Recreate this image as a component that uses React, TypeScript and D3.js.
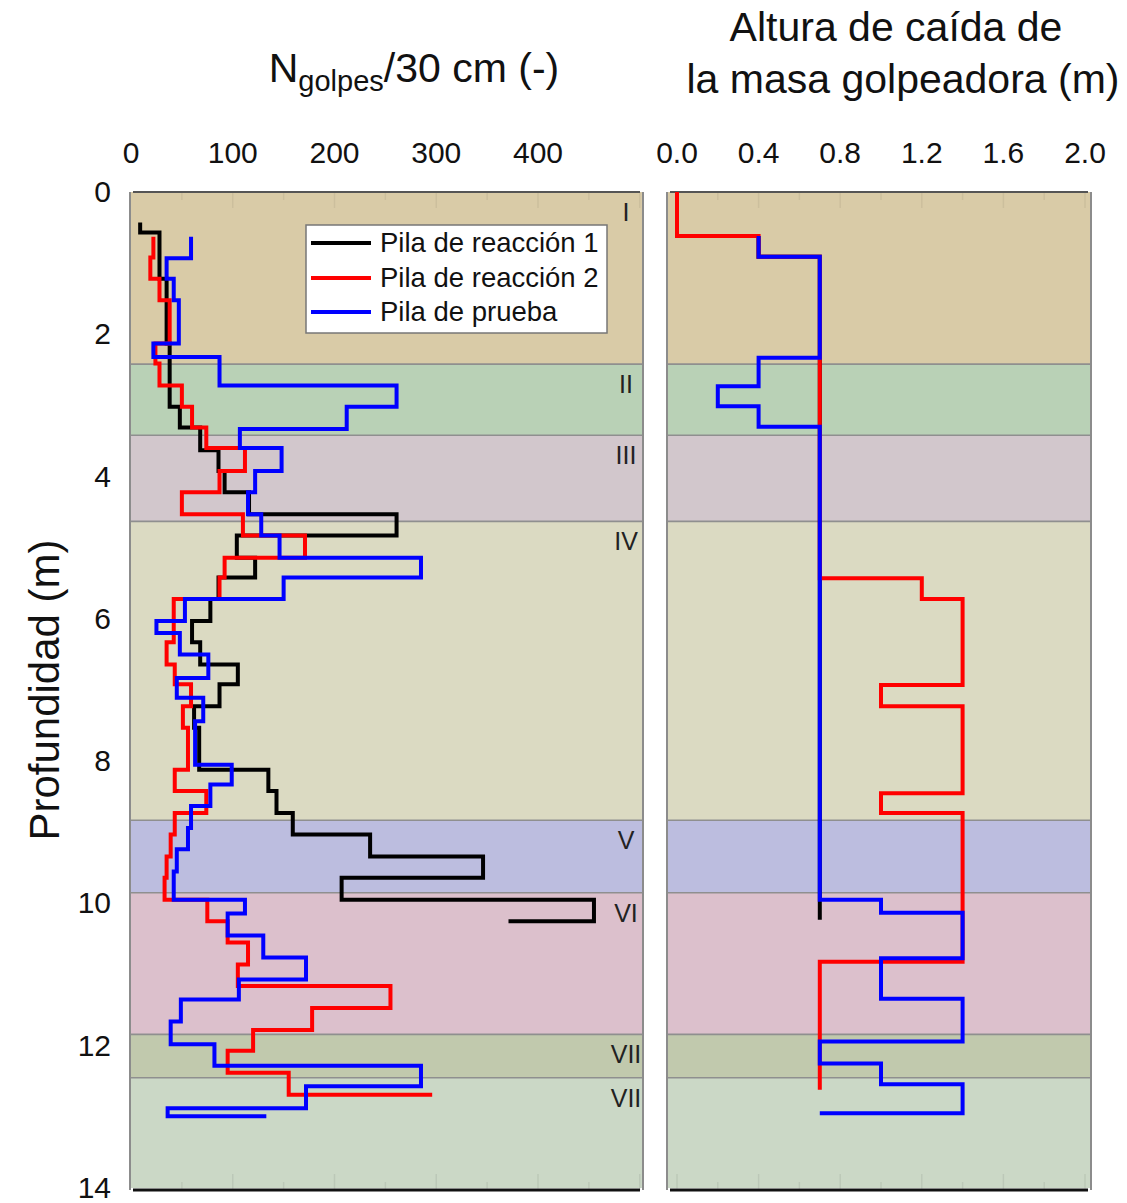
import React from 'react';
import * as d3 from 'd3';

const W = 1127;
const H = 1203;
const FONT = '"Liberation Sans", Arial, Helvetica, sans-serif';

// Soil strata (depth of the top of each layer, m)
const layerTops = [0, 2.42, 3.42, 4.63, 8.83, 9.85, 11.84, 12.45];
const layerBase = 14;
const layerNames = ['I', 'II', 'III', 'IV', 'V', 'VI', 'VII', 'VII'];
const layerColors = ['#d9cba7', '#b9d1b6', '#d2c7cc', '#dbdac2', '#bcbddf', '#dcc0cc', '#c1c9ad', '#cbd8c6'];

// Blow count per 30 cm: depth where each step starts, and its value
const r1Depth = [0.43, 0.57, 1.22, 2.13, 3.02, 3.31, 3.63, 3.92, 4.22, 4.53, 4.83, 5.14, 5.42, 5.72, 6.03, 6.33, 6.64, 6.92, 7.23, 7.53, 8.12, 8.42, 8.73, 9.03, 9.34, 9.64, 9.95, 10.25];
const r1N = [9, 28, 35, 38, 48, 68, 86, 92, 116, 261, 104, 122, 86, 78, 60, 68, 105, 87, 62, 67, 135, 143, 159, 235, 346, 207, 455, 371];

const r2Depth = [0.63, 0.92, 1.22, 1.52, 2.13, 2.41, 2.72, 3.02, 3.31, 3.6, 3.92, 4.22, 4.53, 4.83, 5.14, 5.42, 5.72, 6.33, 6.64, 6.92, 7.23, 7.53, 8.12, 8.42, 8.73, 9.03, 9.34, 9.64, 9.95, 10.25, 10.55, 10.86, 11.16, 11.47, 11.78, 12.07, 12.38, 12.69];
const r2N = [22, 19, 28, 38, 24, 28, 50, 60, 74, 112, 87, 50, 110, 171, 92, 87, 42, 35, 43, 59, 51, 56, 43, 74, 43, 39, 35, 33, 75, 95, 115, 105, 255, 178, 120, 95, 155, 296];

const tpDepth = [0.63, 0.93, 1.22, 1.52, 2.13, 2.32, 2.72, 3.02, 3.33, 3.6, 3.92, 4.22, 4.53, 4.83, 5.14, 5.42, 5.72, 6.03, 6.2, 6.5, 6.83, 7.11, 7.44, 8.05, 8.33, 8.63, 8.94, 9.24, 9.55, 9.95, 10.14, 10.45, 10.76, 11.07, 11.35, 11.66, 11.98, 12.28, 12.57, 12.88, 12.99];
const tpN = [59, 35, 42, 47, 22, 87, 261, 212, 107, 148, 122, 115, 128, 146, 285, 150, 53, 25, 48, 76, 45, 71, 63, 99, 78, 59, 56, 45, 42, 112, 95, 130, 172, 106, 49, 39, 82, 285, 172, 36, 133];

// Hammer drop height (m)
const r1HDepth = [0.62, 0.91, 10.23];
const r1H = [0.4, 0.7, 0.7];
const r2HDepth = [0, 0.62, 0.91, 5.43, 5.72, 6.93, 7.23, 8.45, 8.73, 10.82, 12.62];
const r2H = [0, 0.4, 0.7, 1.2, 1.4, 1.0, 1.4, 1.0, 1.4, 0.7, 0.7];
const tpHDepth = [0.62, 0.91, 2.33, 2.73, 3.01, 3.3, 9.95, 10.13, 10.77, 11.34, 11.94, 12.25, 12.54, 12.95];
const tpH = [0.4, 0.7, 0.4, 0.2, 0.4, 0.7, 1.0, 1.4, 1.0, 1.4, 0.7, 1.0, 1.4, 0.7];

const depthTicks = [0, 2, 4, 6, 8, 10, 12, 14];
const nTicks = [0, 100, 200, 300, 400];
const nMinor = [0, 50, 100, 150, 200, 250, 300, 350, 400, 450, 500];
const hTicks = [0, 0.4, 0.8, 1.2, 1.6, 2.0];
const hMinor = [0, 0.2, 0.4, 0.6, 0.8, 1.0, 1.2, 1.4, 1.6, 1.8, 2.0];
const seriesNames = ['Pila de reacción 1', 'Pila de reacción 2', 'Pila de prueba'];
const seriesColors = ['#000000', '#ff0000', '#0000ff'];

const y = d3.scaleLinear().domain([0, 14]).range([192, 1188]);
const xN = d3.scaleLinear().domain([0, 400]).range([131, 538]);
const xH = d3.scaleLinear().domain([0, 2]).range([677, 1085]);

const leftPanel = { x0: 130, x1: 643 };
const rightPanel = { x0: 667, x1: 1091 };

function stepPath(xs: d3.ScaleLinear<number, number>, depths: number[], vals: number[]) {
  const pts: [number, number][] = depths.map((d, i) => [vals[i], d]);
  const line = d3
    .line<[number, number]>()
    .x((p) => xs(p[0]))
    .y((p) => y(p[1]))
    .curve(d3.curveStepBefore);
  return line(pts) || '';
}

function Strata({ x0, x1, labels }: { x0: number; x1: number; labels: boolean }) {
  return (
    <g>
      {layerTops.map((t, i) => {
        const b = i < layerTops.length - 1 ? layerTops[i + 1] : layerBase;
        return (
          <rect key={'l' + i} x={x0} y={y(t)} width={x1 - x0} height={y(b) - y(t)} fill={layerColors[i]} />
        );
      })}
      {layerTops.slice(1).map((t, i) => (
        <line key={'b' + i} x1={x0} x2={x1} y1={y(t)} y2={y(t)} stroke="#8f8f8f" strokeWidth={1.6} />
      ))}
      {labels &&
        layerTops.map((t, i) => (
          <text key={'n' + i} x={626} y={y(t) + 29} textAnchor="middle" fontSize={25} fill="#222" fontFamily={FONT}>
            {layerNames[i]}
          </text>
        ))}
    </g>
  );
}

function Frame({ x0, x1, xs, minor }: { x0: number; x1: number; xs: d3.ScaleLinear<number, number>; minor: number[] }) {
  const yTop = y(0);
  const yBot = y(14) + 2;
  return (
    <g>
      {minor.map((v, i) => {
        const px = xs(v);
        if (px < x0 + 2 || px > x1 - 2) return null;
        const len = i % 2 === 0 ? 16 : 8;
        return (
          <g key={'m' + i}>
            <line x1={px} x2={px} y1={yTop} y2={yTop + len} stroke="rgba(0,0,0,0.06)" strokeWidth={1.5} />
            <line x1={px} x2={px} y1={yBot} y2={yBot - len} stroke="rgba(0,0,0,0.07)" strokeWidth={1.5} />
          </g>
        );
      })}
      <line x1={x0} x2={x0} y1={yTop} y2={yBot} stroke="#8c8c8c" strokeWidth={2} />
      <line x1={x1} x2={x1} y1={yTop} y2={yBot} stroke="#8c8c8c" strokeWidth={2} />
      <line x1={x0 + 3} x2={x1 - 3} y1={yTop} y2={yTop} stroke="#555" strokeWidth={2.2} />
      <line x1={x0 + 3} x2={x1 - 3} y1={yBot} y2={yBot} stroke="#111" strokeWidth={3} />
    </g>
  );
}

export default function App() {
  const nSeries = [
    stepPath(xN, r1Depth, r1N),
    stepPath(xN, r2Depth, r2N),
    stepPath(xN, tpDepth, tpN),
  ];
  const hSeries = [
    stepPath(xH, r1HDepth, r1H),
    stepPath(xH, r2HDepth, r2H),
    stepPath(xH, tpHDepth, tpH),
  ];
  const legendY = [243, 278, 312];

  return (
    <svg
      width={W}
      height={H}
      viewBox={`0 0 ${W} ${H}`}
      style={{ position: 'absolute', left: 0, top: 0, background: '#fff' }}
      fontFamily={FONT}
    >
      <rect x={0} y={0} width={W} height={H} fill="#fff" />

      {/* Titles */}
      <text x={414} y={82} textAnchor="middle" fontSize={41} fill="#111">
        N
        <tspan fontSize={29} dy={9}>golpes</tspan>
        <tspan dy={-9}>/30 cm (-)</tspan>
      </text>
      <text x={896} y={41} textAnchor="middle" fontSize={41} fill="#111">
        Altura de caída de
      </text>
      <text x={903} y={93} textAnchor="middle" fontSize={41} fill="#111">
        la masa golpeadora (m)
      </text>

      {/* Depth axis */}
      <text
        transform={`translate(59, ${y(7)}) rotate(-90)`}
        textAnchor="middle"
        fontSize={42}
        fill="#111"
      >
        Profundidad (m)
      </text>
      {depthTicks.map((d) => (
        <text key={'yd' + d} x={111} y={y(d) + 10} textAnchor="end" fontSize={30} fill="#111">
          {d}
        </text>
      ))}

      {/* Top tick labels */}
      {nTicks.map((v) => (
        <text key={'xn' + v} x={xN(v)} y={163} textAnchor="middle" fontSize={30} fill="#111">
          {v}
        </text>
      ))}
      {hTicks.map((v) => (
        <text key={'xh' + v} x={xH(v)} y={163} textAnchor="middle" fontSize={30} fill="#111">
          {v.toFixed(1)}
        </text>
      ))}

      {/* Left panel: blow counts */}
      <Strata x0={leftPanel.x0} x1={leftPanel.x1} labels={true} />
      <Frame x0={leftPanel.x0} x1={leftPanel.x1} xs={xN} minor={nMinor} />
      {nSeries.map((p, i) => (
        <path key={'ns' + i} d={p} fill="none" stroke={seriesColors[i]} strokeWidth={4} strokeLinejoin="miter" />
      ))}

      {/* Legend */}
      <rect x={306} y={225} width={301} height={108} fill="#fff" stroke="#777" strokeWidth={1.5} />
      {seriesNames.map((s, i) => (
        <g key={'lg' + i}>
          <line x1={311} x2={371} y1={legendY[i]} y2={legendY[i]} stroke={seriesColors[i]} strokeWidth={4} />
          <text x={380} y={legendY[i] + 9} fontSize={27.5} fill="#111">
            {s}
          </text>
        </g>
      ))}

      {/* Right panel: drop height */}
      <Strata x0={rightPanel.x0} x1={rightPanel.x1} labels={false} />
      <Frame x0={rightPanel.x0} x1={rightPanel.x1} xs={xH} minor={hMinor} />
      {hSeries.map((p, i) => (
        <path key={'hs' + i} d={p} fill="none" stroke={seriesColors[i]} strokeWidth={4} strokeLinejoin="miter" />
      ))}
    </svg>
  );
}
